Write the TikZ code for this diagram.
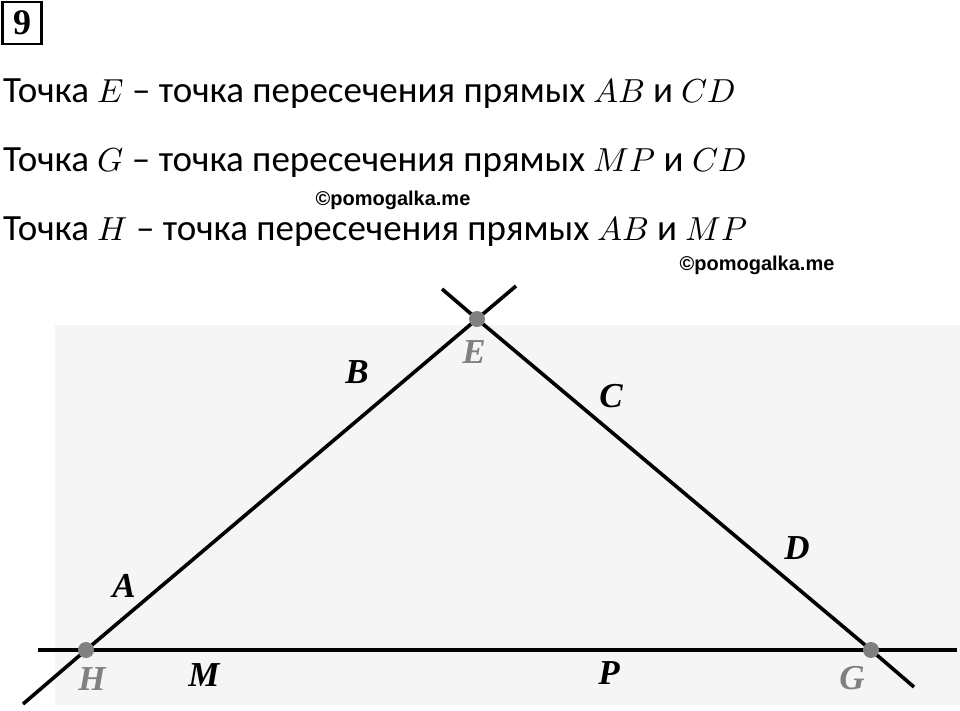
\documentclass[tikz,border=0pt]{standalone}
\usepackage{fontspec}
\usepackage{unicode-math}
\setmainfont{Carlito}
\setmathfont{Latin Modern Math}[Scale=0.9]
\newfontfamily\markfont{Liberation Sans}
\newfontfamily\ptfont{Liberation Serif}
\definecolor{ptgray}{RGB}{128,128,128}
\tikzset{
  textline/.style={anchor=base west, inner sep=0pt, font=\fontsize{37}{44}\selectfont},
  wmark/.style={inner sep=0pt, font=\markfont\bfseries\fontsize{20}{20}\selectfont},
  stline/.style={line width=3.6pt},
  ptdot/.style={circle, fill=ptgray, inner sep=0pt, minimum size=16pt},
  lbl/.style={inner sep=0pt, font=\ptfont\bfseries\itshape\fontsize{35}{35}\selectfont},
  graylbl/.style={lbl, text=ptgray}
}
\begin{document}
\begin{tikzpicture}[x=1pt, y=-1pt]
    \useasboundingbox (0,0) rectangle (960,710);
    % scan in the background
    \fill[black!4] (55,325) rectangle (960,705);
    % number of the task
    \node[draw, line width=2.8pt, minimum width=39pt, minimum height=42pt, inner sep=0pt,
          font=\ptfont\bfseries\fontsize{36}{36}\selectfont] (num) at (22,23) {9};
    % the three lines of text
    \node[textline] (lineE) at (3,102) {Точка $E$ – точка пересечения прямых $AB$ и $CD$};
    \node[textline] (lineG) at (3,171) {Точка $G$ – точка пересечения прямых $MP$ и $CD$};
    \node[textline] (lineH) at (3,240) {Точка $H$ – точка пересечения прямых $AB$ и $MP$};
    \node[wmark] (wm1) at (393,200) {©pomogalka.me};
    \node[wmark] (wm2) at (757,265) {©pomogalka.me};
    % points of intersection and free ends of the lines
    \coordinate (E) at (477,319);
    \coordinate (H) at (86,650);
    \coordinate (G) at (871,650);
    \coordinate (ABtop) at (516,286);
    \coordinate (ABbot) at (23,704);
    \coordinate (CDtop) at (442,289);
    \coordinate (CDbot) at (914,687);
    \coordinate (MPleft) at (38,650);
    \coordinate (MPright) at (957,650);
    % the lines
    \draw[stline] (ABtop) -- (E) -- (H) -- (ABbot);
    \draw[stline] (CDtop) -- (E) -- (G) -- (CDbot);
    \draw[stline] (MPleft) -- (H) -- (G) -- (MPright);
    \node[ptdot] (dotE) at (E) {};
    \node[ptdot] (dotH) at (H) {};
    \node[ptdot] (dotG) at (G) {};
    % labels
    \node[lbl] (lA) at (124,586) {A};
    \node[lbl] (lB) at (357,372) {B};
    \node[lbl] (lC) at (611,396) {C};
    \node[lbl] (lD) at (797,548) {D};
    \node[lbl] (lM) at (204,675) {M};
    \node[lbl] (lP) at (609,673) {P};
    \node[graylbl] (lE) at (474,352) {E};
    \node[graylbl] (lH) at (92,679) {H};
    \node[graylbl] (lG) at (852,678) {G};
\end{tikzpicture}
\end{document}
